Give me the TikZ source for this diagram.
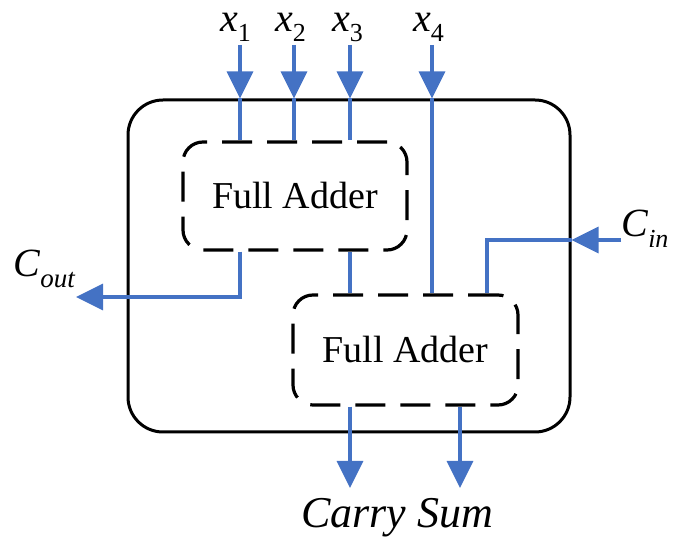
\documentclass[tikz,border=0pt]{standalone}
\usepackage{fontspec}
\setmainfont{Liberation Serif}
\usetikzlibrary{arrows.meta}
\definecolor{wireblue}{RGB}{68,114,196}
\begin{document}
\begin{tikzpicture}[x=1pt,y=-1pt,
  wire/.style={draw=wireblue,line width=3.2pt},
  arr/.style={wire,-{Triangle[length=27pt,width=26pt]}},
  fabox/.style={draw,line width=3.2pt,dash pattern=on 30pt off 15pt,rounded corners=20pt,
     minimum width=224pt,minimum height=108pt,font=\fontsize{38}{40}\selectfont,inner sep=0pt},
  lbl/.style={font=\fontsize{40}{44}\selectfont,inner sep=0pt}]
\useasboundingbox (0,0) rectangle (673,540);
% outer box
\node[draw,line width=3pt,rounded corners=35pt,minimum width=442pt,minimum height=332pt,inner sep=0pt] (outer) at (349,266) {};
% full adders
\node[fabox] (fa1) at (295,196) {Full Adder};
\node[fabox,minimum width=225pt,minimum height=110pt] (fa2) at (405.5,350) {Full Adder};
% input labels
\node[lbl,anchor=base west] (lx1) at (220,32) {\textit{x}\raisebox{-10pt}{\fontsize{26}{28}\selectfont 1}};
\node[lbl,anchor=base west] (lx2) at (275,32) {\textit{x}\raisebox{-10pt}{\fontsize{26}{28}\selectfont 2}};
\node[lbl,anchor=base west] (lx3) at (332,32) {\textit{x}\raisebox{-10pt}{\fontsize{26}{28}\selectfont 3}};
\node[lbl,anchor=base west] (lx4) at (413,32) {\textit{x}\raisebox{-10pt}{\fontsize{26}{28}\selectfont 4}};
\coordinate (s1) at (240,45);
\coordinate (s2) at (294,45);
\coordinate (s3) at (350,45);
\coordinate (s4) at (432,45);
\foreach \i in {1,2,3,4} {
  \draw[arr] (s\i) -- (s\i |- outer.north);
}
\draw[wire] (s1 |- outer.north) -- (s1 |- fa1.north);
\draw[wire] (s2 |- outer.north) -- (s2 |- fa1.north);
\draw[wire] (s3 |- outer.north) -- (s3 |- fa1.north);
\draw[wire] (s4 |- outer.north) -- (s4 |- fa2.north);
% FA1 -> FA2
\draw[wire] (s3 |- fa1.south) -- (s3 |- fa2.north);
% Cout
\node[lbl,anchor=base west] (cout) at (13,277) {\textit{C}\raisebox{-11pt}{\fontsize{27}{29}\selectfont\textit{out}}};
\coordinate (coutend) at (76,297);
\draw[arr] (s1 |- fa1.south) |- (coutend);
% Cin
\node[lbl,anchor=base west] (cin) at (621,237) {\textit{C}\raisebox{-11pt}{\fontsize{26}{28}\selectfont\textit{in}}};
\coordinate (cins) at (621,240);
\coordinate (cinturn) at (487,240);
\draw[arr] (cins) -- (cins -| outer.east);
\draw[wire] (cins -| outer.east) -- (cinturn) -- (cinturn |- fa2.north);
% outputs
\coordinate (carryend) at (350,488);
\coordinate (sumend) at (460,488);
\draw[arr] (carryend |- fa2.south) -- (carryend);
\draw[arr] (sumend |- fa2.south) -- (sumend);
\node[lbl,font=\fontsize{44}{48}\selectfont,anchor=base] (cs) at (397,527) {\textit{Carry Sum}};
\end{tikzpicture}
\end{document}
